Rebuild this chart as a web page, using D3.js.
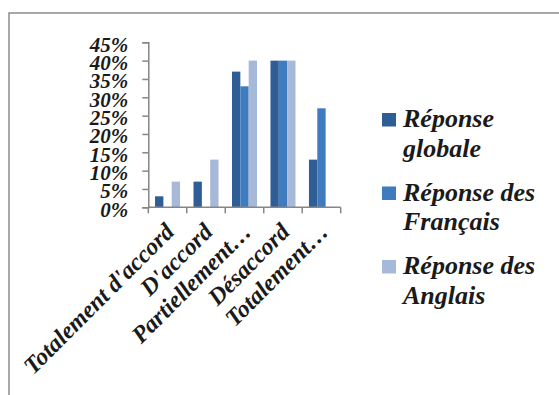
<!DOCTYPE html>
<html><head><meta charset="utf-8">
<script src="https://cdn.jsdelivr.net/npm/d3@7"></script>
<style>
html,body{margin:0;padding:0;background:#fff;}
svg{display:block;}
text{font-family:"Liberation Serif","Times New Roman",serif;font-weight:bold;font-style:italic;fill:#1a1a1a;}
</style></head>
<body>
<svg id="chart" width="559" height="395"></svg>
<script>
const categories = ["Totalement d'accord", "D'accord", "Partiellement…", "Désaccord", "Totalement…"];
const seriesNames = ["Réponse globale", "Réponse des Français", "Réponse des Anglais"];
const legendLines = [["Réponse", "globale"], ["Réponse des", "Français"], ["Réponse des", "Anglais"]];
const globale = [0.03, 0.07, 0.37, 0.40, 0.13];
const francais = [0, 0, 0.33, 0.40, 0.27];
const anglais = [0.07, 0.13, 0.40, 0.40, 0];
const yTicks = [0, 0.05, 0.10, 0.15, 0.20, 0.25, 0.30, 0.35, 0.40, 0.45];
const colors = ["#2F5E97", "#3F7BBF", "#A7B9D9"];

const series = [globale, francais, anglais];
const svg = d3.select("#chart");

// outer frame
svg.append("rect").attr("x", 9).attr("y", 13).attr("width", 600).attr("height", 450)
  .attr("fill", "none").attr("stroke", "#8c8c8c").attr("stroke-width", 1.5);

const x0 = d3.scaleBand().domain(categories).range([148.3, 340.7]).paddingInner(0.35).paddingOuter(0.175);
const x1 = d3.scaleBand().domain(seriesNames).range([0, x0.bandwidth()]);
const y = d3.scaleLinear().domain([0, 0.45]).range([207.3, 42.3]);

// bars
const g = svg.append("g");
categories.forEach((c, i) => {
  series.forEach((s, j) => {
    if (s[i] > 0) {
      g.append("rect")
        .attr("x", x0(c) + x1(seriesNames[j]))
        .attr("y", y(s[i]))
        .attr("width", x1.bandwidth())
        .attr("height", y(0) - y(s[i]))
        .attr("fill", colors[j]);
    }
  });
});

// y axis
const yAxis = svg.append("g").attr("transform", "translate(148.3,0)")
  .call(d3.axisLeft(y).tickValues(yTicks).tickFormat(d3.format(".0%")).tickSize(6).tickPadding(14));
yAxis.select(".domain").attr("stroke", "#868686").attr("stroke-width", 1.5);
yAxis.selectAll(".tick line").attr("stroke", "#868686").attr("stroke-width", 1.5);
yAxis.selectAll(".tick text").attr("font-size", 21).attr("font-family", null).attr("dy", "0.42em").attr("fill", "#1a1a1a");

// x axis
const step = x0.step();
const xStart = x0.range()[0];
const xAxis = svg.append("g");
xAxis.append("line").attr("x1", xStart).attr("x2", x0.range()[1]).attr("y1", y(0)).attr("y2", y(0))
  .attr("stroke", "#868686").attr("stroke-width", 1.5);
d3.range(categories.length + 1).forEach(k => {
  const xx = xStart + k * step;
  xAxis.append("line").attr("x1", xx).attr("x2", xx).attr("y1", y(0)).attr("y2", y(0) + 6)
    .attr("stroke", "#868686").attr("stroke-width", 1.5);
});
categories.forEach(c => {
  const cx = x0(c) + x0.bandwidth() / 2 + 2;
  xAxis.append("text")
    .attr("transform", `translate(${cx},${y(0) + 20}) rotate(-45)`)
    .attr("text-anchor", "end")
    .attr("dy", "0.35em")
    .attr("font-size", 24)
    .text(c);
});

// legend
const leg = svg.append("g");
legendLines.forEach((lines, j) => {
  const top = 113 + j * 73.5;
  leg.append("rect").attr("x", 382).attr("y", top).attr("width", 14).attr("height", 13.5).attr("fill", colors[j]);
  lines.forEach((t, k) => {
    leg.append("text").attr("x", 403).attr("y", top + 14 + k * 29.5).attr("font-size", 26).text(t);
  });
});
</script>
</body></html>
